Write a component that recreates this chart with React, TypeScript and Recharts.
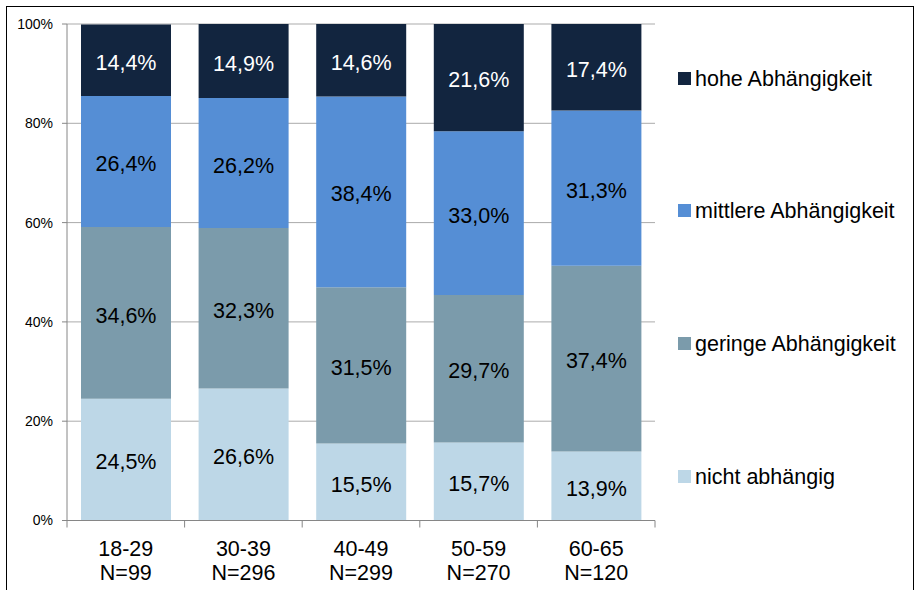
import { BarChart, Bar, XAxis, YAxis, CartesianGrid, LabelList } from "recharts";

const categories = ["18-29", "30-39", "40-49", "50-59", "60-65"];
const sampleSizes = [99, 296, 299, 270, 120];

const nichtAbhaengig = [24.5, 26.6, 15.5, 15.7, 13.9];
const geringe = [34.6, 32.3, 31.5, 29.7, 37.4];
const mittlere = [26.4, 26.2, 38.4, 33.0, 31.3];
const hohe = [14.4, 14.9, 14.6, 21.6, 17.4];

const yTicks = [0, 20, 40, 60, 80, 100];

// bottom to top in the stack
const SERIES = [
  { key: "nicht", name: "nicht abhängig", color: "#BDD7E7", label: "#000" },
  { key: "geringe", name: "geringe Abhängigkeit", color: "#7B9BAB", label: "#000" },
  { key: "mittlere", name: "mittlere Abhängigkeit", color: "#558ED5", label: "#000" },
  { key: "hohe", name: "hohe Abhängigkeit", color: "#12253F", label: "#fff" },
];

const data = categories.map((c, i) => ({
  cat: c,
  n: sampleSizes[i],
  nicht: nichtAbhaengig[i],
  geringe: geringe[i],
  mittlere: mittlere[i],
  hohe: hohe[i],
}));

const FONT = "'Liberation Sans', Arial, sans-serif";
const W = 916;
const H = 590;
const LEFT = 67;
const RIGHT = 261;
const BAND = (W - LEFT - RIGHT) / categories.length;

const fmtPct = (v: any) => `${Number(v).toFixed(1).replace(".", ",")}%`;

function XTick(props: any) {
  const { x, y, payload, index } = props;
  const n = sampleSizes[index];
  return (
    <g>
      <line x1={x - BAND / 2} x2={x - BAND / 2} y1={y} y2={y + 7} stroke="#868686" />
      {index === categories.length - 1 && (
        <line x1={x + BAND / 2} x2={x + BAND / 2} y1={y} y2={y + 7} stroke="#868686" />
      )}
      <text x={x} y={y + 35} textAnchor="middle" fontSize={21.5} fill="#000" fontFamily={FONT}>{payload.value}</text>
      <text x={x} y={y + 59} textAnchor="middle" fontSize={21.5} fill="#000" fontFamily={FONT}>N={n}</text>
    </g>
  );
}

const LEGEND_TOPS = [72, 204, 337, 470];

export default function App() {
  const legendItems = [...SERIES].reverse();
  return (
    <div style={{ position: "absolute", left: 0, top: 0, width: W, height: H, overflow: "hidden", background: "#fff", fontFamily: FONT }}>
      <div style={{ position: "absolute", left: 6, top: 6, width: 906, height: 620, border: "1.5px solid #000" }} />
      <BarChart width={W} height={H} data={data} margin={{ top: 24, right: RIGHT, bottom: 0, left: 0 }} style={{ position: "absolute", left: 0, top: 0 }}>
        <CartesianGrid vertical={false} stroke="#ABABAB" />
        <XAxis dataKey="cat" interval={0} height={69.5} axisLine={{ stroke: "#868686" }} tickLine={false} tickSize={0} tickMargin={0} tick={<XTick />} />
        <YAxis
          width={LEFT}
          domain={[0, 100]}
          ticks={yTicks}
          tickFormatter={(v) => `${v}%`}
          tickSize={5}
          tickMargin={9}
          axisLine={{ stroke: "#868686" }}
          tickLine={{ stroke: "#868686" }}
          tick={{ fontSize: 14, fill: "#000", fontFamily: FONT }}
        />
        {SERIES.map((s) => (
          <Bar key={s.key} dataKey={s.key} name={s.name} stackId="a" fill={s.color} barSize={90} isAnimationActive={false}>
            <LabelList dataKey={s.key} position="center" formatter={fmtPct} fill={s.label} fontSize={21.5} fontFamily={FONT} dy={2} />
          </Bar>
        ))}
      </BarChart>
      <svg width={W} height={H} style={{ position: "absolute", left: 0, top: 0, pointerEvents: "none" }}>
        {legendItems.map((s, i) => (
          <g key={s.key}>
            <rect x={678} y={LEGEND_TOPS[i]} width={13} height={13} fill={s.color} />
            <text x={695} y={LEGEND_TOPS[i] + 14} fontSize={21.5} fill="#000" fontFamily={FONT}>{s.name}</text>
          </g>
        ))}
      </svg>
    </div>
  );
}
